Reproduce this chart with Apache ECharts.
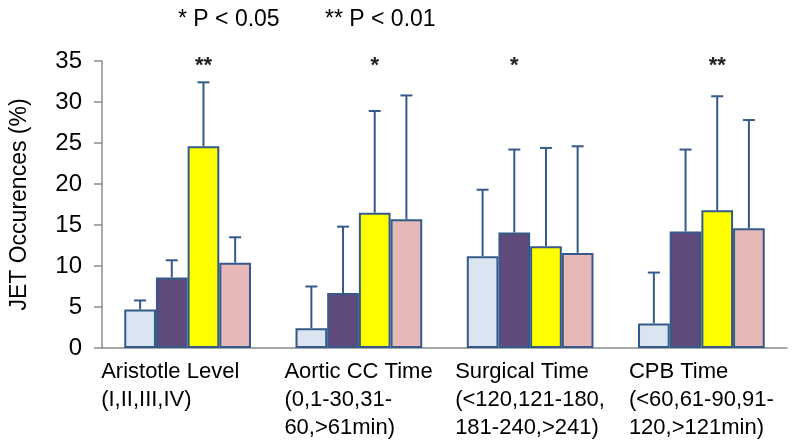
<!DOCTYPE html>
<html><head><meta charset="utf-8">
<script src="https://cdn.jsdelivr.net/npm/echarts@6/dist/echarts.min.js"></script>
<style>html,body{margin:0;padding:0;background:#fff}#c{width:800px;height:445px}</style>
</head><body><div id="c"></div>
<script>
// ---- data ----
const categories = [
  'Aristotle Level\n(I,II,III,IV)',
  'Aortic CC Time\n(0,1-30,31-\n60,>61min)',
  'Surgical Time\n(<120,121-180,\n181-240,>241)',
  'CPB Time\n(<60,61-90,91-\n120,>121min)'
];
const seriesNames = ['Level 1', 'Level 2', 'Level 3', 'Level 4'];
const means1 = [4.7, 2.4, 11.2, 3.0];
const means2 = [8.6, 6.7, 14.1, 14.2];
const means3 = [24.6, 16.5, 12.4, 16.8];
const means4 = [10.4, 15.7, 11.6, 14.6];
const upper1 = [5.8, 7.5, 19.3, 9.2];
const upper2 = [10.7, 14.8, 24.2, 24.2];
const upper3 = [32.4, 28.9, 24.4, 30.7];
const upper4 = [13.5, 30.8, 24.6, 27.8];
const yTicks = [0, 5, 10, 15, 20, 25, 30, 35];
const yName = 'JET Occurences (%)';
const legendNotes = ['* P < 0.05', '** P < 0.01'];
const starLabels = ['**', '*', '*', '**'];
const starOnSeries = [2, 2, 1, 2];

const means = [means1, means2, means3, means4];
const uppers = [upper1, upper2, upper3, upper4];
const colors = ['#dbe5f1', '#604a7b', '#ffff00', '#e6b9b8'];
const edge = '#345a8a';
const FONT = '"Liberation Sans", Arial, sans-serif';
const catGap = 0.26;

// measure label widths for left-aligned, centred blocks
const ctx = document.createElement('canvas').getContext('2d');
ctx.font = '22px ' + FONT;
const labelW = categories.map(c => Math.ceil(Math.max(...c.split('\n').map(l => ctx.measureText(l).width))));
const rich = {};
labelW.forEach((w, i) => {
  rich['c' + i] = { width: w, align: 'left', fontSize: 22, lineHeight: 28, fontFamily: FONT, color: '#000',
    padding: i === 0 ? [0, 34, 0, 0] : [0, 0, 0, 0] };
});

const errData = [];
uppers.forEach((arr, s) => arr.forEach((u, c) => errData.push([c, s, means[s][c], u])));

const chart = echarts.init(document.getElementById('c'), null, { renderer: 'canvas' });
const option = {
  animation: false,
  backgroundColor: '#fff',
  grid: { left: 95, right: 13, top: 61, bottom: 97, containLabel: false },
  xAxis: {
    type: 'category',
    data: categories,
    axisLine: { lineStyle: { color: '#8c8c8c', width: 1.5 } },
    axisTick: { show: false },
    axisLabel: {
      interval: 0, margin: 10, align: 'center',
      formatter: (v, i) => v.split('\n').map(l => '{c' + i + '|' + l + '}').join('\n'),
      rich: rich
    }
  },
  yAxis: {
    type: 'value', min: 0, max: 35, interval: 5,
    name: yName, nameLocation: 'middle', nameGap: 71,
    nameTextStyle: { fontSize: 23, fontFamily: FONT, color: '#000' },
    axisLine: { show: true, lineStyle: { color: '#8c8c8c', width: 1.5 } },
    axisTick: { show: true, length: 8, lineStyle: { color: '#8c8c8c', width: 1.5 } },
    splitLine: { show: false },
    axisLabel: { margin: 20, fontSize: 24, fontFamily: FONT, color: '#000',
      formatter: v => yTicks.includes(v) ? String(v) : '' }
  },
  series: means.map((m, s) => ({
    type: 'bar', name: seriesNames[s], data: m,
    barGap: '0%', barCategoryGap: (catGap * 100) + '%',
    itemStyle: { color: colors[s], borderColor: edge, borderWidth: 2 },
    z: 2
  })).concat([{
    type: 'custom', data: errData, z: 3,
    encode: { x: 0, y: 3 },
    renderItem: (params, api) => {
      const c = api.value(0), s = api.value(1), m = api.value(2), u = api.value(3);
      const band = api.size([1, 0])[0];
      const bw = band * (1 - catGap) / 4;
      const cx = api.coord([c, 0])[0] - 2 * bw + bw * (s + 0.5);
      const y0 = api.coord([c, m])[1];
      const y1 = api.coord([c, u])[1];
      const cap = 6;
      const st = { stroke: edge, lineWidth: 2 };
      return { type: 'group', children: [
        { type: 'line', shape: { x1: cx, y1: y0, x2: cx, y2: y1 }, style: st },
        { type: 'line', shape: { x1: cx - cap, y1: y1, x2: cx + cap, y2: y1 }, style: st }
      ]};
    }
  }])
};
chart.setOption(option);

// annotations
const gfx = [
  { type: 'text', left: 178, top: 8, style: { text: legendNotes[0], font: '23px ' + FONT, fill: '#000' } },
  { type: 'text', left: 325, top: 8, style: { text: legendNotes[1], font: '23px ' + FONT, fill: '#000' } }
];
const band = chart.convertToPixel({ xAxisIndex: 0 }, 1) - chart.convertToPixel({ xAxisIndex: 0 }, 0);
const bw = band * (1 - catGap) / 4;
const yTop = chart.convertToPixel({ yAxisIndex: 0 }, 35);
starLabels.forEach((t, c) => {
  const cx = chart.convertToPixel({ xAxisIndex: 0 }, c) - 2 * bw + bw * (starOnSeries[c] + 0.5);
  gfx.push({ type: 'text', x: cx, y: yTop - 6,
    style: { text: t, font: 'bold 22px ' + FONT, fill: '#222', textAlign: 'center', textVerticalAlign: 'top' } });
});
chart.setOption({ graphic: gfx });
</script>
</body></html>
